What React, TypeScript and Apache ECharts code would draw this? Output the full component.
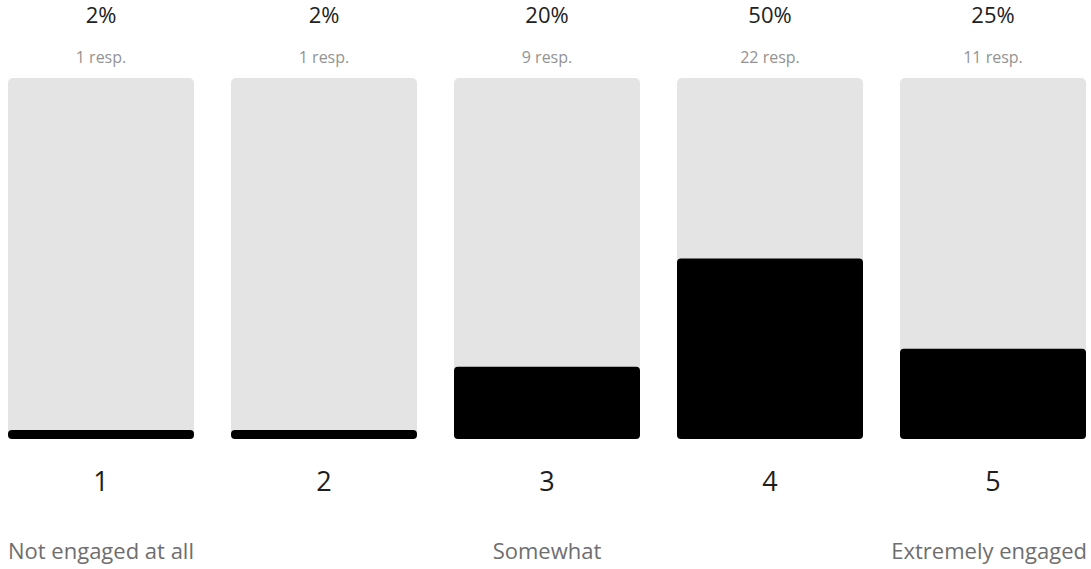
import React, { useEffect, useRef } from "react";
import * as echarts from "echarts";

// Engagement scale 1–5
const categories = ["1", "2", "3", "4", "5"];
const percentages = [2, 2, 20, 50, 25];
const responses = [1, 1, 9, 22, 11];
const scaleLabels = ["Not engaged at all", "Somewhat", "Extremely engaged"];

const FONT = "'Open Sans', 'Noto Sans', sans-serif";
// the chart canvas extends a little past the window so the outer bands can be cropped
const SHIFT = 11;

export default function App() {
  const ref = useRef<HTMLDivElement>(null);

  useEffect(() => {
    if (!ref.current) return;
    const chart = echarts.init(ref.current, undefined, { renderer: "svg" });

    chart.setOption({
      animation: false,
      backgroundColor: "#ffffff",
      grid: { left: 0.5, top: 78, width: 1115, bottom: 130, containLabel: false },
      xAxis: [
        {
          type: "category",
          data: categories,
          position: "bottom",
          axisLine: { show: false },
          axisTick: { show: false },
          axisLabel: {
            margin: 28,
            fontSize: 27,
            color: "#1e1e1e",
            fontFamily: FONT,
          },
        },
        {
          type: "category",
          data: categories,
          position: "top",
          axisLine: { show: false },
          axisTick: { show: false },
          axisLabel: {
            margin: 53,
            fontSize: 22,
            color: "#222222",
            fontFamily: FONT,
            formatter: (_v: string, i: number) => `${percentages[i]}%`,
          },
        },
        {
          type: "category",
          data: categories,
          position: "top",
          axisLine: { show: false },
          axisTick: { show: false },
          axisLabel: {
            margin: 13,
            fontSize: 16,
            color: "#939393",
            fontFamily: FONT,
            formatter: (_v: string, i: number) => `${responses[i]} resp.`,
          },
        },
      ],
      yAxis: {
        type: "value",
        min: 0,
        max: 100,
        show: false,
        splitLine: { show: false },
      },
      series: [
        {
          type: "bar",
          data: percentages,
          barWidth: 186,
          showBackground: true,
          backgroundStyle: { color: "#e4e4e4", borderRadius: 5 },
          itemStyle: { color: "#000000", borderRadius: 4 },
          barMinHeight: 9,
        },
      ],
      graphic: [
        {
          type: "text",
          x: 8 + SHIFT,
          y: 550,
          style: {
            text: scaleLabels[0],
            fontSize: 22,
            fill: "#6e6e6e",
            fontFamily: FONT,
            align: "left",
            verticalAlign: "middle",
          },
        },
        {
          type: "text",
          x: 547 + SHIFT,
          y: 550,
          style: {
            text: scaleLabels[1],
            fontSize: 22,
            fill: "#6e6e6e",
            fontFamily: FONT,
            align: "center",
            verticalAlign: "middle",
          },
        },
        {
          type: "text",
          x: 1087 + SHIFT,
          y: 550,
          style: {
            text: scaleLabels[2],
            fontSize: 22,
            fill: "#6e6e6e",
            fontFamily: FONT,
            align: "right",
            verticalAlign: "middle",
          },
        },
      ],
    });

    return () => chart.dispose();
  }, []);

  return (
    <div
      style={{
        position: "fixed",
        left: 0,
        top: 0,
        width: 1091,
        height: 569,
        overflow: "hidden",
        background: "#ffffff",
      }}
    >
      <div
        ref={ref}
        style={{ position: "absolute", left: -SHIFT, top: 0, width: 1116, height: 569 }}
      />
    </div>
  );
}
